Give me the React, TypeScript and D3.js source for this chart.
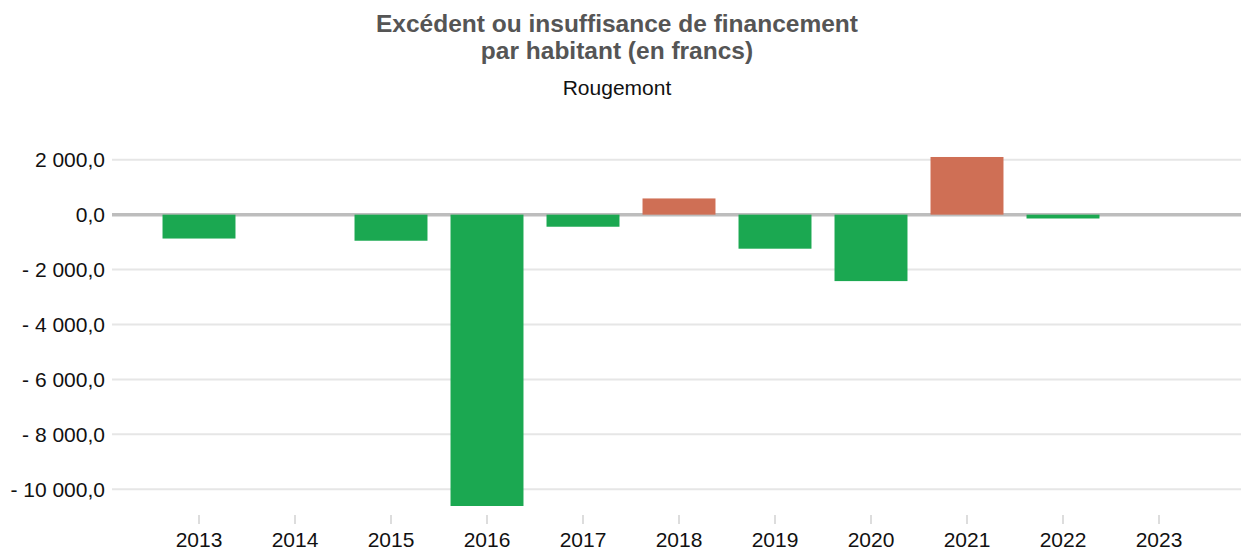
import { useEffect, useRef } from "react";
import * as d3 from "d3";

// Rougemont — financement par habitant (CHF)
const YEARS = ["2013", "2014", "2015", "2016", "2017", "2018", "2019", "2020", "2021", "2022", "2023"];
const VALUES: (number | null)[] = [-870, null, -950, -10610, -440, 590, -1240, -2420, 2100, -140, null];
const Y_TICKS = [2000, 0, -2000, -4000, -6000, -8000, -10000];

const TITLE_LINES = ["Excédent ou insuffisance de financement", "par habitant (en francs)"];
const SUBTITLE = "Rougemont";

const POS_COLOR = "#cf6f55";
const NEG_COLOR = "#1ba851";
const FONT = "'Liberation Sans', Arial, sans-serif";

const W = 1241;
const H = 550;

const numFmt = d3.formatLocale({ decimal: ",", thousands: " ", grouping: [3], currency: ["", " CHF"] }).format(",.1f");
const fmtTick = (v: number) => (v < 0 ? "- " + numFmt(-v) : numFmt(v));

export default function App() {
  const svgRef = useRef<SVGSVGElement | null>(null);

  useEffect(() => {
    const svg = d3.select(svgRef.current);
    svg.selectAll("*").remove();

    const gridLeft = 112;
    const gridRight = W;

    const x = d3.scaleBand<string>()
      .domain(YEARS)
      .range([151, 1207])
      .paddingInner(0.24)
      .paddingOuter(0.12);

    const y = d3.scaleLinear()
      .domain([-11000, 2500])
      .range([516.7, 146]);

    // title
    const title = svg.append("g").attr("font-family", FONT);
    TITLE_LINES.forEach((t, i) => {
      title.append("text")
        .attr("x", 617).attr("y", 32 + i * 27)
        .attr("text-anchor", "middle")
        .attr("font-size", 24.5).attr("font-weight", "bold")
        .attr("fill", "#555555")
        .text(t);
    });
    title.append("text")
      .attr("x", 617).attr("y", 95)
      .attr("text-anchor", "middle")
      .attr("font-size", 21)
      .attr("fill", "#111")
      .text(SUBTITLE);

    // grid
    const grid = svg.append("g");
    grid.selectAll("line")
      .data(Y_TICKS.filter(d => d !== 0))
      .enter().append("line")
      .attr("x1", gridLeft).attr("x2", gridRight)
      .attr("y1", d => y(d)).attr("y2", d => y(d))
      .attr("stroke", "#e6e6e6").attr("stroke-width", 2);

    grid.append("line")
      .attr("x1", gridLeft).attr("x2", gridRight)
      .attr("y1", y(0)).attr("y2", y(0))
      .attr("stroke", "#bdbdbd").attr("stroke-width", 3.5);

    // y labels
    svg.append("g")
      .selectAll("text")
      .data(Y_TICKS)
      .enter().append("text")
      .attr("x", 105).attr("y", d => y(d))
      .attr("dy", "0.35em")
      .attr("text-anchor", "end")
      .attr("font-family", FONT).attr("font-size", 21)
      .attr("fill", "#111")
      .text(d => fmtTick(d));

    // bars
    const bars = YEARS.map((yr, i) => ({ yr, v: VALUES[i] })).filter(d => d.v !== null) as { yr: string; v: number }[];
    svg.append("g")
      .selectAll("rect")
      .data(bars)
      .enter().append("rect")
      .attr("x", d => x(d.yr)!)
      .attr("width", x.bandwidth())
      .attr("y", d => (d.v >= 0 ? y(d.v) : y(0)))
      .attr("height", d => Math.abs(y(d.v) - y(0)))
      .attr("fill", d => (d.v >= 0 ? POS_COLOR : NEG_COLOR));

    // x axis
    const xa = svg.append("g").attr("transform", "translate(0,515)");
    YEARS.forEach(yr => {
      const cx = x(yr)! + x.bandwidth() / 2;
      xa.append("line")
        .attr("x1", cx).attr("x2", cx).attr("y1", 0).attr("y2", 9)
        .attr("stroke", "#dddddd").attr("stroke-width", 2);
      xa.append("text")
        .attr("x", cx).attr("y", 32)
        .attr("text-anchor", "middle")
        .attr("font-family", FONT).attr("font-size", 21)
        .attr("fill", "#111")
        .text(yr);
    });
  }, []);

  return (
    <div style={{ position: "absolute", left: 0, top: 0, width: W, height: H, background: "#fff" }}>
      <svg ref={svgRef} width={W} height={H} style={{ display: "block" }} />
    </div>
  );
}
